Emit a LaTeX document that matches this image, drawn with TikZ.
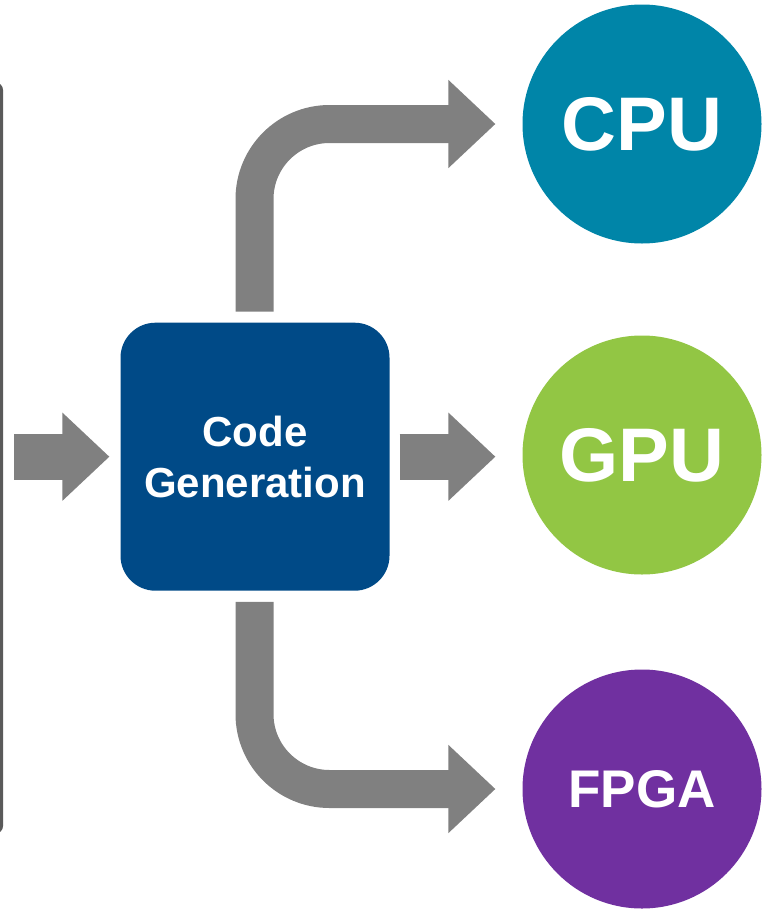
\documentclass[tikz,border=0pt]{standalone}
\usepackage{fontspec}
\setmainfont{Liberation Sans}
\usetikzlibrary{arrows.meta}
\definecolor{cgblue}{HTML}{004A87}
\definecolor{cputeal}{HTML}{0085A8}
\definecolor{gpugreen}{HTML}{92C644}
\definecolor{fpgapurple}{HTML}{7030A0}
\definecolor{arrowgray}{HTML}{808080}
\definecolor{edgegray}{HTML}{5A5A5A}
\begin{document}
\begin{tikzpicture}[x=1pt,y=-1pt,
  blockarrow/.style={draw=arrowgray,line width=#1,
    -{Triangle[length=47pt 0 0,width=88pt 0 0,line width=2pt 0 0,fill=arrowgray]}},
  target/.style={circle,fill=#1,text=white,inner sep=0pt,minimum size=239pt},
  cgbox/.style={rectangle,rounded corners=35pt,fill=cgblue,text=white,inner sep=0pt,
    minimum width=269pt,minimum height=268pt,align=center,
    font=\bfseries\fontsize{42}{51}\selectfont}]
\useasboundingbox (0,0) rectangle (769,911);
\coordinate (cgpos) at (255,456.7);
\coordinate (cpupos) at (642,124);
\coordinate (gpupos) at (642,455);
\coordinate (fpgapos) at (642,789);
\coordinate (src) at (14,456.7);

  % edge of the block on the left
  \draw[edgegray,line width=3pt,rounded corners=6pt] (-20,84) -- (1.5,84) -- (1.5,832) -- (-20,832);

  \node (cg) at (cgpos) [cgbox] {Code\\Generation};
  \node (cpu) at (cpupos) [target=cputeal,font=\bfseries\fontsize{76}{76}\selectfont] {CPU};
  \node (gpu) at (gpupos) [target=gpugreen,font=\bfseries\fontsize{76}{76}\selectfont] {GPU};
  \node (fpga) at (fpgapos) [target=fpgapurple,font=\bfseries\fontsize{53}{53}\selectfont] {FPGA};

  \draw[blockarrow=46pt,shorten >=11pt] (src) -- (cg.west);
  \draw[blockarrow=46pt,shorten <=10pt,shorten >=27pt] (cg.east) -- (cg.east -| gpu.west);
  \draw[blockarrow=38pt,rounded corners=75pt,shorten <=11pt,shorten >=27pt] ([xshift=-0.5pt]cg.north) |- (cpu.west);
  \draw[blockarrow=38pt,rounded corners=75pt,shorten <=11pt,shorten >=27pt] ([xshift=-0.5pt]cg.south) |- (fpga.west);
\end{tikzpicture}
\end{document}
